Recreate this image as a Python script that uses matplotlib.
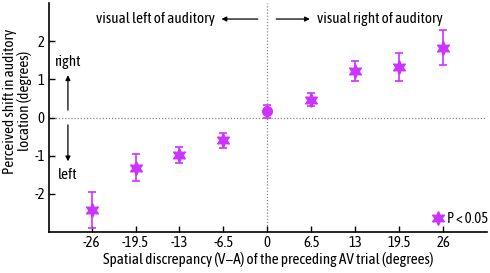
import matplotlib
matplotlib.use('Agg')
import matplotlib.pyplot as plt
import numpy as np

# 字型: 窄體 (Asap Condensed), 沒有就退回 DejaVu
plt.rcParams.update({
    'font.family': ['Asap Condensed', 'DejaVu Sans'],
    'font.size': 10.5,
    'figure.dpi': 100,
    'savefig.dpi': 100,
})

# 資料
discrepancy = [-26, -19.5, -13, -6.5, 0, 6.5, 13, 19.5, 26]
shift = [-2.42, -1.31, -0.98, -0.60, 0.16, 0.47, 1.22, 1.32, 1.83]
shift_err = [0.48, 0.36, 0.22, 0.19, 0.16, 0.18, 0.27, 0.37, 0.45]
significant = [True, True, True, True, False, True, True, True, True]
xtick_labels = ['-26', '-19.5', '-13', '-6.5', '0', '6.5', '13', '19.5', '26']

color = '#CC33FF'
star = (6, 1, 0)

fig = plt.figure(figsize=(4.9, 2.73))
ax = fig.add_axes([0.10, 0.150, 0.894, 0.839])

# 參考線
ax.axhline(0, color='#888888', lw=0.9, ls=(0, (1, 1.5)), zorder=1)
ax.axvline(0, color='#888888', lw=0.9, ls=(0, (1, 1.5)), zorder=1)

x = np.array(discrepancy)
y = np.array(shift)
e = np.array(shift_err)
sig = np.array(significant)

ax.errorbar(x, y, yerr=e, fmt='none', ecolor=color, elinewidth=1.2,
            capsize=3, capthick=1.2, zorder=2)
ax.plot(x[sig], y[sig], ls='none', marker=star, ms=10, color=color,
        mec=color, zorder=3, label='P < 0.05')
ax.plot(x[~sig], y[~sig], ls='none', marker='o', ms=7, color=color, zorder=3)

ax.set_xlim(-32.3, 32.5)
ax.set_ylim(-3, 3)
ax.set_xticks(discrepancy)
ax.set_xticklabels(xtick_labels)
ax.set_yticks([-2, -1, 0, 1, 2])
ax.set_yticklabels(['-2', '-1', '0', '1', '2'])
ax.tick_params(direction='in', length=4, width=1, labelsize=10.5, pad=3)
for s in ['top', 'right']:
    ax.spines[s].set_visible(False)
for s in ['left', 'bottom']:
    ax.spines[s].set_linewidth(1.2)

ax.set_xlabel('Spatial discrepancy (V\u2212A) of the preceding AV trial (degrees)',
              fontsize=11, labelpad=1.5)
fig.text(0.036, 0.63, 'Perceived shift in auditory\nlocation (degrees)', rotation=90,
         ha='center', va='center', fontsize=11, linespacing=1.0)

# 箭頭註解
arw = dict(arrowstyle='-|>', color='black', lw=0.9, mutation_scale=7)
ax.annotate('', xy=(-7.2, 2.58), xytext=(-1.0, 2.58), arrowprops=arw)
ax.annotate('', xy=(6.7, 2.58), xytext=(0.9, 2.58), arrowprops=arw)
ax.text(-7.7, 2.58, 'visual left of auditory', ha='right', va='center', fontsize=11)
ax.text(7.4, 2.58, 'visual right of auditory', ha='left', va='center', fontsize=11)

ax.annotate('', xy=(-29.5, 1.18), xytext=(-29.5, 0.12), arrowprops=arw)
ax.annotate('', xy=(-29.5, -1.22), xytext=(-29.5, -0.12), arrowprops=arw)
ax.text(-29.6, 1.45, 'right', ha='center', va='center', fontsize=11)
ax.text(-29.5, -1.5, 'left', ha='center', va='center', fontsize=11)

ax.legend(loc='lower right', frameon=False, handletextpad=0.1, handlelength=1.0,
          borderaxespad=0.0, bbox_to_anchor=(1.015, 0.0), fontsize=10.5)

plt.savefig('out.png')
